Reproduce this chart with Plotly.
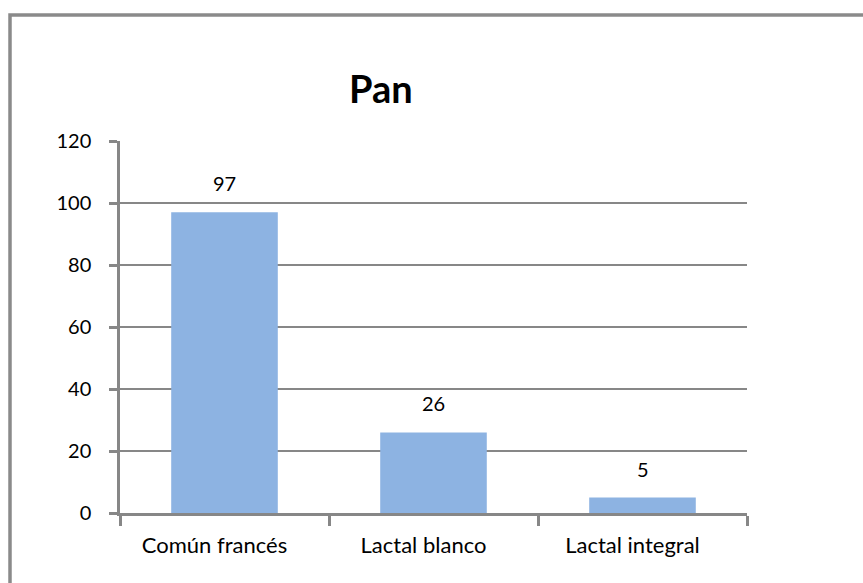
import plotly.graph_objects as go

categories = ["Común francés", "Lactal blanco", "Lactal integral"]
values = [97, 26, 5]
y_ticks = [0, 20, 40, 60, 80, 100, 120]
title_text = "Pan"

W, H = 863, 583
FONT = "Lato"
GRAY = "#878787"

fig = go.Figure()
fig.add_trace(go.Bar(
    x=categories, y=values,
    marker=dict(color="#8DB3E2", line=dict(width=0)),
    hoverinfo="x+y",
))

for c, v in zip(categories, values):
    fig.add_annotation(x=c, y=v, text=str(v), showarrow=False,
                       xref="x", yref="y", yanchor="bottom", yshift=15,
                       font=dict(family=FONT, size=20, color="#000000"))

# title
fig.add_annotation(x=381 / W, y=1 - 88 / H, xref="paper", yref="paper",
                   text="<b>" + title_text + "</b>", showarrow=False,
                   xanchor="center", yanchor="middle",
                   font=dict(family=FONT, size=38, color="#000000"))

# chart border (top and left visible, right/bottom cropped)
fig.add_shape(type="rect", xref="paper", yref="paper",
              x0=10 / W, y0=-0.05, x1=1.05, y1=1 - 15 / H,
              line=dict(color="#8a8a8a", width=3.5), fillcolor="rgba(0,0,0,0)",
              layer="below")

fig.update_layout(
    width=W, height=H,
    margin=dict(l=0, r=0, t=0, b=0, autoexpand=False),
    paper_bgcolor="white", plot_bgcolor="white",
    bargap=0.49,
    showlegend=False,
    font=dict(family=FONT, size=20, color="#000000"),
    xaxis=dict(
        domain=[120 / W, 747 / W],
        automargin=False,
        showline=True, linecolor=GRAY, linewidth=2.5,
        ticks="outside", tickson="boundaries", ticklen=10, tickwidth=2.5, tickcolor=GRAY,
        tickfont=dict(family=FONT, size=22, color="#000000"),
        ticklabelstandoff=11,
        ticklabelshift=-10,
        showgrid=False, zeroline=False,
    ),
    yaxis=dict(
        domain=[1 - 513 / H, 1 - 141 / H],
        automargin=False,
        range=[0, 120],
        tickvals=y_ticks,
        showline=True, linecolor=GRAY, linewidth=2.5,
        ticks="outside", ticklen=8, tickwidth=2.5, tickcolor=GRAY,
        tickfont=dict(family=FONT, size=20, color="#000000"),
        ticklabelstandoff=14,
        showgrid=True, gridcolor=GRAY, gridwidth=2,
        zeroline=False,
    ),
)

fig.write_html("out.html")
